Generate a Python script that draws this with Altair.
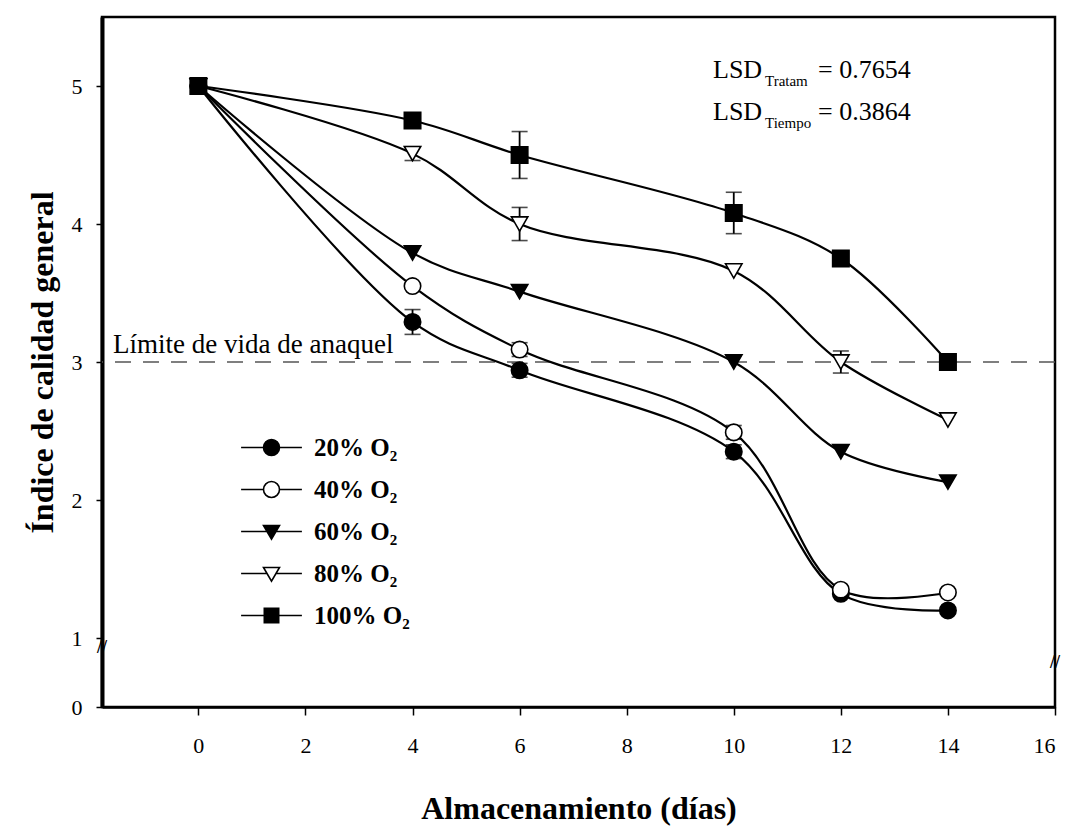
import altair as alt
import pandas as pd

# ---------------- data ----------------
days = [0, 4, 6, 10, 12, 14]
series_names = ["20% O₂", "40% O₂", "60% O₂", "80% O₂", "100% O₂"]

v20 = [5.0, 3.29, 2.94, 2.35, 1.32, 1.20]
v40 = [5.0, 3.55, 3.09, 2.49, 1.35, 1.33]
v60 = [5.0, 3.79, 3.51, 3.00, 2.35, 2.13]
v80 = [5.0, 4.51, 4.00, 3.66, 3.00, 2.58]
v100 = [5.0, 4.75, 4.50, 4.08, 3.75, 3.00]

e20 = [0, 0.09, 0.05, 0.05, 0, 0]
e40 = [0, 0, 0.05, 0.05, 0, 0]
e60 = [0, 0, 0, 0, 0, 0]
e80 = [0, 0.05, 0.12, 0, 0.08, 0]
e100 = [0, 0, 0.17, 0.15, 0, 0]

lsd_names = ["Tratam", "Tiempo"]
lsd_values = ["0.7654", "0.3864"]
limit_value = 3
limit_label = "Límite de vida de anaquel"

x_ticks = [0, 2, 4, 6, 8, 10, 12, 14, 16]
y_ticks = [0.5, 1, 2, 3, 4, 5]
break_marks = {"x": [-1.8, 16], "y": [0.93, 0.82]}

rows = []
for name, vals, errs in zip(series_names, [v20, v40, v60, v80, v100],
                            [e20, e40, e60, e80, e100]):
    for d, v, e in zip(days, vals, errs):
        rows.append({"serie": name, "dias": d, "indice": v, "err": e,
                     "lo": v - e, "hi": v + e})
df = pd.DataFrame(rows)

SERIF = "Liberation Serif"
W, H = 953, 690

xscale = alt.Scale(domain=[-1.8, 16], nice=False, zero=False)
yscale = alt.Scale(domain=[0.5, 5.5], nice=False, zero=False)

x_axis = alt.Axis(values=x_ticks, title="Almacenamiento (días)", grid=False,
                  labelFont=SERIF, labelFontSize=22, labelColor="black",
                  labelPadding=20, tickSize=8, tickColor="black", tickWidth=1.5,
                  domainColor="black", domainWidth=2.5,
                  titleFont=SERIF, titleFontSize=32, titleFontWeight="bold",
                  titleColor="black", titleY=101, titleBaseline="middle")
y_axis = alt.Axis(values=y_ticks, title="Índice de calidad general", grid=False,
                  labelExpr="datum.value == 0.5 ? '0' : datum.label",
                  labelFont=SERIF, labelFontSize=22, labelColor="black",
                  labelPadding=14, tickSize=6, tickColor="black", tickWidth=1.5,
                  domainColor="black", domainWidth=4,
                  titleFont=SERIF, titleFontSize=32, titleFontWeight="bold",
                  titleColor="black", titleX=-60, titleY=H / 2,
                  titleAlign="center", titleBaseline="middle", titleAngle=-90)

X = alt.X("dias:Q", scale=xscale, axis=x_axis)
Y = alt.Y("indice:Q", scale=yscale, axis=y_axis)

base = alt.Chart(df)

limit_rule = alt.Chart(pd.DataFrame({"v": [limit_value]})).mark_rule(
    color="#555", strokeWidth=1.3, strokeDash=[16, 12]
).encode(y=alt.Y("v:Q", scale=yscale, axis=y_axis))

limit_text = alt.Chart(pd.DataFrame({"v": [limit_value], "t": [limit_label]})).mark_text(
    font=SERIF, fontSize=27, color="black", align="left", baseline="alphabetic", dy=-9
).encode(x=alt.value(11), y=alt.Y("v:Q", scale=yscale, axis=y_axis), text="t:N")

lines = base.mark_line(interpolate="catmull-rom", color="black", strokeWidth=2.2).encode(
    x=X, y=Y, detail="serie:N"
)

err_df = base.transform_filter("datum.err > 0")
err_rules = err_df.mark_rule(color="black", strokeWidth=1.8).encode(
    x=X, y=alt.Y("lo:Q", scale=yscale, axis=y_axis), y2="hi:Q"
)
err_caps = err_df.transform_fold(["lo", "hi"], as_=["k", "yv"]).mark_tick(
    color="black", thickness=1.6, size=16, orient="horizontal"
).encode(x=X, y=alt.Y("yv:Q", scale=yscale, axis=y_axis))

shape_std = ["circle", "circle", "triangle-down", "triangle-down", "square"]
fill_cols = ["black", "white", "black", "white", "black"]
stroke_cols = ["black"] * 5

points = base.mark_point(stroke="black", strokeWidth=1.6, opacity=1, size=270).encode(
    x=X, y=Y,
    shape=alt.Shape("serie:N", scale=alt.Scale(domain=series_names, range=shape_std), legend=None),
    fill=alt.Fill("serie:N", scale=alt.Scale(domain=series_names, range=fill_cols), legend=None),
)

L = 3.8
circ = "M-1,0A1,1 0 1,1 1,0A1,1 0 1,1 -1,0Z"
p_circle = f"M-{L},0L-1,0M1,0L{L},0" + circ
p_tri = f"M-{L},0L-0.56,0M0.56,0L{L},0M-1,-0.75L1,-0.75L0,0.95Z"
p_sq = f"M-{L},0L-0.9,0M0.9,0L{L},0M-0.9,-0.9L0.9,-0.9L0.9,0.9L-0.9,0.9Z"
shape_leg = [p_circle, p_circle, p_tri, p_tri, p_sq]

leg = alt.Legend(title=None, orient="none", legendX=157, legendY=418,
                 symbolSize=256, symbolStrokeWidth=1.6,
                 symbolStrokeColor="black",
                 labelFont=SERIF, labelFontSize=25,
                 labelFontWeight="bold", labelColor="black",
                 labelOffset=30, rowPadding=16, padding=0)

legend_layer = base.transform_filter("false").mark_point(
    strokeWidth=1.6, opacity=1
).encode(
    x=X, y=Y,
    shape=alt.Shape("serie:N", scale=alt.Scale(domain=series_names, range=shape_leg), legend=leg),
    fill=alt.Fill("serie:N", scale=alt.Scale(domain=series_names, range=fill_cols), legend=leg),
    stroke=alt.Stroke("serie:N", scale=alt.Scale(domain=series_names, range=stroke_cols), legend=leg),
)

# axis-break marks on the left and right frame lines
breaks = alt.Chart(pd.DataFrame(break_marks)).mark_text(
    text="//", font=SERIF, fontSize=18, fontWeight="bold", color="black",
    align="center", baseline="middle"
).encode(x=alt.X("x:Q", scale=xscale, axis=x_axis), y=alt.Y("y:Q", scale=yscale, axis=y_axis))

def txt(s, x, y, size, weight="normal"):
    return alt.Chart(pd.DataFrame({"t": [s]})).mark_text(
        font=SERIF, fontSize=size, fontWeight=weight, color="black",
        align="left", baseline="alphabetic"
    ).encode(x=alt.value(x), y=alt.value(y), text="t:N")

lsd_layers = []
for i, (nm, val) in enumerate(zip(lsd_names, lsd_values)):
    yb = 61 + i * 42
    lsd_layers.append(txt("LSD", 611, yb, 26))
    lsd_layers.append(txt(nm, 663, yb + 8, 15))
    lsd_layers.append(txt("= " + val, 716, yb, 26))

chart = alt.layer(
    limit_rule, limit_text, lines, err_rules, err_caps, points, legend_layer, breaks, *lsd_layers
).resolve_scale(shape="independent", fill="independent", stroke="independent").properties(
    width=W, height=H,
    autosize=alt.AutoSizeParams(type="none"),
    padding={"left": 102, "top": 17, "right": 17, "bottom": 129},
    background="white",
).configure_view(stroke="black", strokeWidth=2.5)

chart.save("out.html", embed_options={"renderer": "svg", "actions": False})
